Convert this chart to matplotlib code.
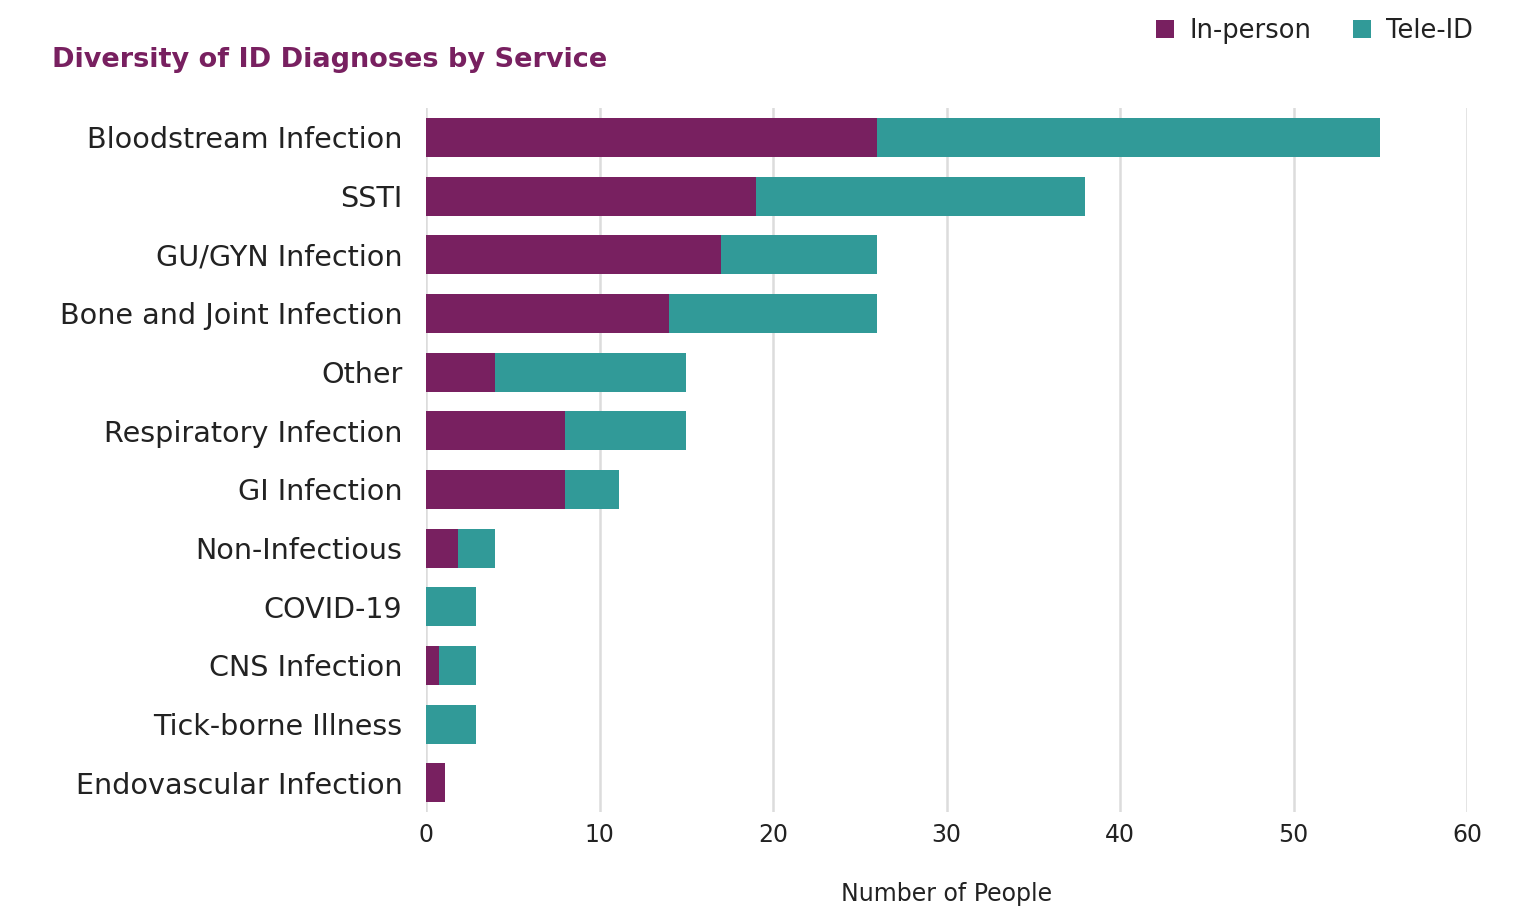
import matplotlib.pyplot as plt
import numpy as np

categories = ["Bloodstream Infection", "SSTI", "GU/GYN Infection", "Bone and Joint Infection",
              "Other", "Respiratory Infection", "GI Infection", "Non-Infectious",
              "COVID-19", "CNS Infection", "Tick-borne Illness", "Endovascular Infection"]
in_person = [26, 19, 17, 14, 4, 8, 8, 1.85, 0, 0.75, 0, 1.1]
tele_id = [29, 19, 9, 12, 11, 7, 3.1, 2.15, 2.9, 2.15, 2.9, 0]
xticks = [0, 10, 20, 30, 40, 50, 60]

purple = "#782060"
teal = "#319a98"
text_col = "#222222"

fig = plt.figure(figsize=(15.16, 9.08), dpi=100)
ax = fig.add_axes([0.281, 0.1057, 0.6867, 0.7753])

y = np.arange(len(categories))
ax.barh(y, in_person, height=0.665, color=purple, label="In-person", zorder=3)
ax.barh(y, tele_id, left=in_person, height=0.665, color=teal, label="Tele-ID", zorder=3)

ax.set_ylim(len(categories) - 0.5, -0.5)
ax.set_xlim(0, 60)
ax.set_xticks(xticks)
ax.set_yticks(y)
ax.set_yticklabels(categories, fontsize=20.6, color=text_col)
ax.tick_params(axis="x", labelsize=17, colors=text_col, length=0, pad=8)
ax.tick_params(axis="y", length=0, pad=17)
ax.grid(axis="x", color="#dcdcdc", linewidth=1.8, zorder=0)
for s in ax.spines.values():
    s.set_visible(False)

ax.set_xlabel("Number of People", fontsize=17, color=text_col, va="center")
ax.xaxis.set_label_coords(0.5, -0.116)

fig.text(0.034, 0.934, "Diversity of ID Diagnoses by Service", fontsize=19.5,
         fontweight="bold", color=purple, va="center")

fig.legend(loc="center right", bbox_to_anchor=(0.987, 0.966), ncol=2, frameon=False,
           fontsize=18.5, handlelength=0.7, handleheight=0.7, columnspacing=1.6,
           handletextpad=0.6, labelcolor=text_col)

fig.savefig("out.png", dpi=100)
